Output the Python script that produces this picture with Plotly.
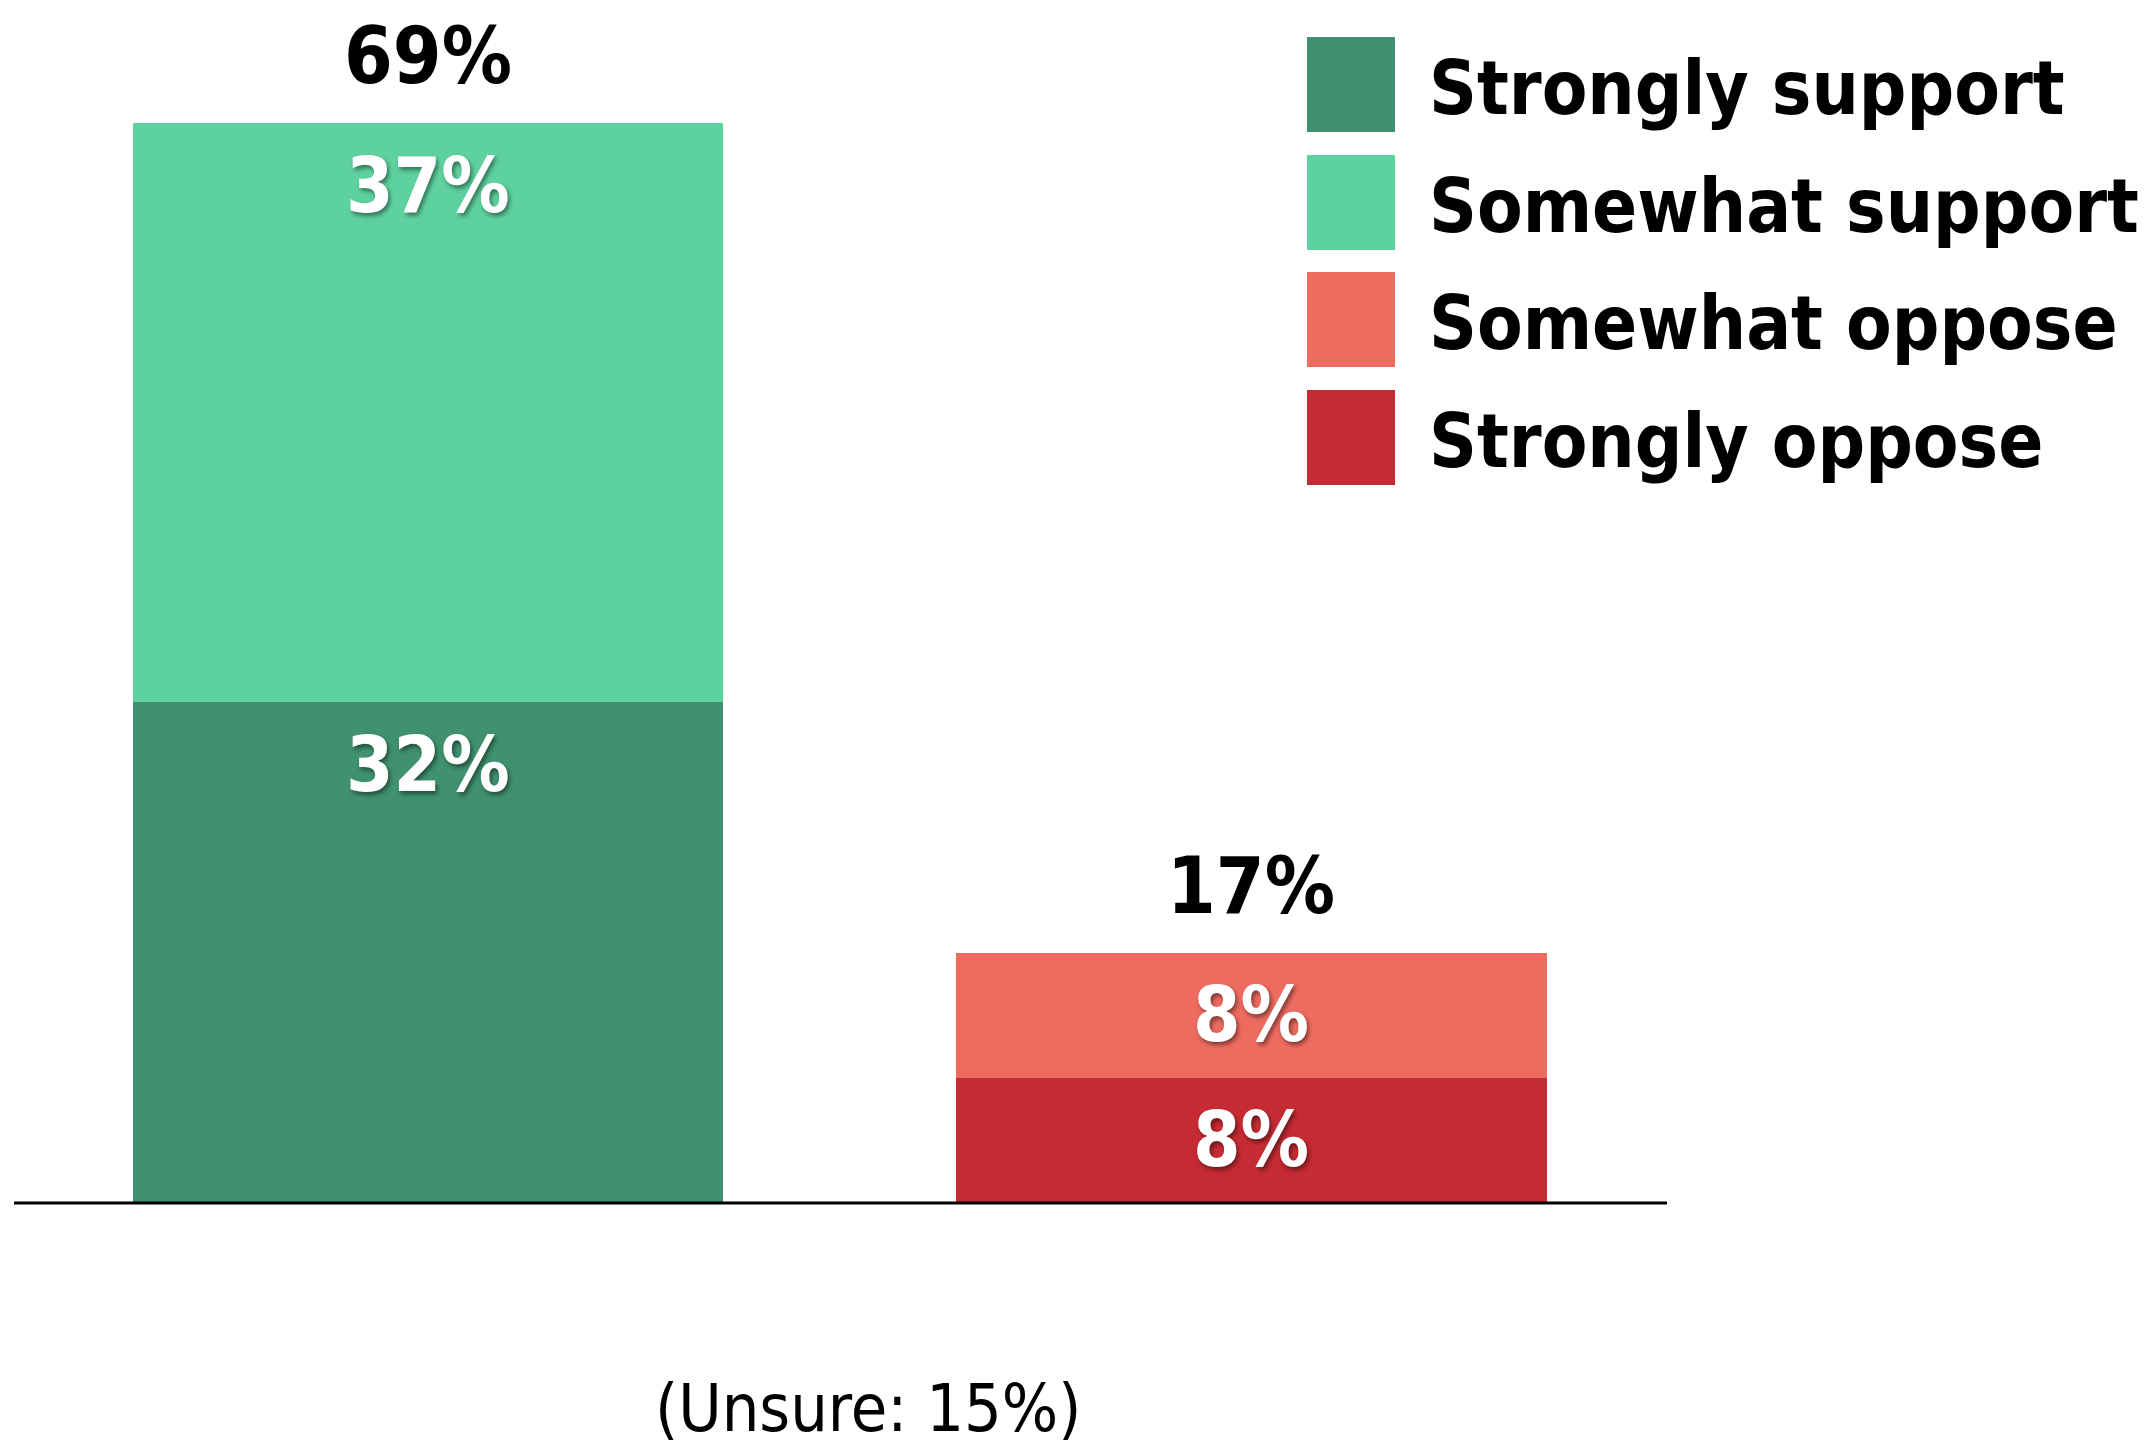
import plotly.graph_objects as go

categories = ["Support", "Oppose"]
series_names = ["Strongly support", "Somewhat support", "Somewhat oppose", "Strongly oppose"]
strongly_support = [32, 0]
somewhat_support = [37, 0]
somewhat_oppose = [0, 8]
strongly_oppose = [0, 8]
totals = [69, 17]
unsure = 15
colors = {"Strongly support": "#40916F", "Somewhat support": "#5DD29E",
          "Somewhat oppose": "#EE6B5F", "Strongly oppose": "#C62B34"}

values = {"Strongly support": strongly_support, "Somewhat support": somewhat_support,
          "Somewhat oppose": somewhat_oppose, "Strongly oppose": strongly_oppose}
# stacking order (bottom to top)
stack_order = ["Strongly support", "Somewhat support", "Strongly oppose", "Somewhat oppose"]

# page body has an 8px margin; figure sized to fill the rest of the window
W, H = 2143, 1440
FONT = "DejaVu Sans Condensed, Roboto, sans-serif"

fig = go.Figure()
for name in stack_order:
    fig.add_trace(go.Bar(
        x=categories, y=values[name], name=name,
        marker=dict(color=colors[name], line=dict(width=0)),
        width=0.7165, showlegend=False, hoverinfo="skip"
    ))

annotations = []
base = [0, 0]
for name in stack_order:
    vals = values[name]
    for i, v in enumerate(vals):
        if v > 0:
            top = base[i] + v
            annotations.append(dict(
                x=categories[i], y=top, xref="x", yref="y", text=f"{v}%",
                showarrow=False, yshift=-62, yanchor="middle",
                font=dict(family=FONT, size=76, color="white", weight="bold",
                          shadow="2px 3px 4px rgba(0,0,0,0.45)")
            ))
    base = [b + v for b, v in zip(base, vals)]

for i, t in enumerate(totals):
    annotations.append(dict(
        x=categories[i], y=base[i], xref="x", yref="y", text=f"{t}%",
        showarrow=False, yshift=67, yanchor="middle",
        font=dict(family=FONT, size=78, color="black", weight="bold")
    ))

shapes = []
shapes.append(dict(type="line", xref="paper", yref="y", x0=6 / W, x1=1659 / W, y0=0, y1=0,
                   line=dict(color="black", width=3)))

leg_top = [29, 147, 264, 382]
for name, t in zip(series_names, leg_top):
    shapes.append(dict(type="rect", xref="paper", yref="paper",
                       x0=1299 / W, x1=1387 / W, y0=1 - t / H, y1=1 - (t + 95) / H,
                       fillcolor=colors[name], line=dict(width=0)))
    annotations.append(dict(
        x=1419 / W, y=1 - (t + 51) / H, xref="paper", yref="paper", text=name,
        showarrow=False, xanchor="left", yanchor="middle",
        font=dict(family=FONT, size=74, color="black", weight="bold")
    ))

annotations.append(dict(
    x=860 / W, y=1 - 1400 / H, xref="paper", yref="paper", text=f"(Unsure: {unsure}%)",
    showarrow=False, xanchor="center", yanchor="middle",
    font=dict(family=FONT, size=66, color="black")
))

fig.update_layout(
    width=W, height=H, barmode="stack",
    margin=dict(l=0, r=0, t=0, b=0),
    paper_bgcolor="white", plot_bgcolor="white",
    xaxis=dict(type="category", range=[-0.5100, 2.0923], visible=False, fixedrange=True),
    yaxis=dict(range=[-15.65, 76.36], visible=False, fixedrange=True),
    shapes=shapes, annotations=annotations,
)

fig.write_html("out.html", config={"displayModeBar": False})
